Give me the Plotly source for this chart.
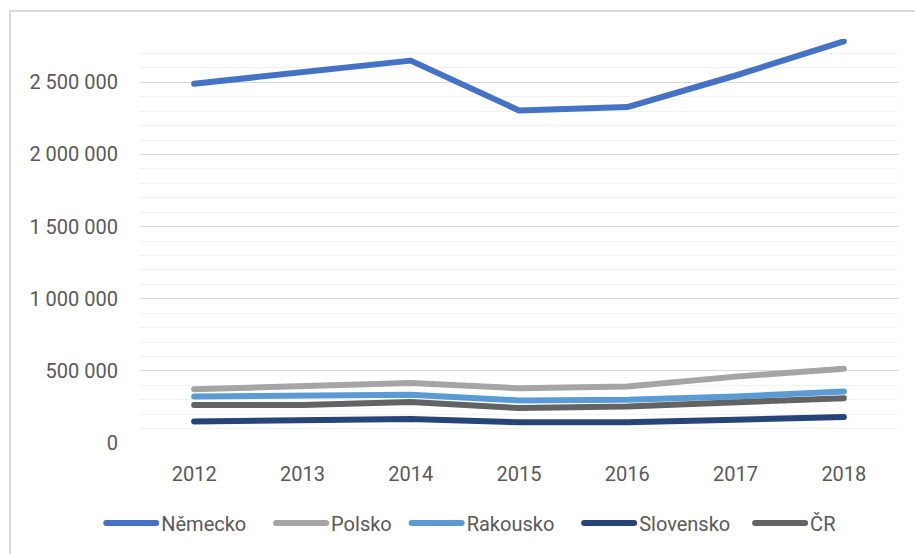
import plotly.graph_objects as go

years = ["2012", "2013", "2014", "2015", "2016", "2017", "2018"]
nemecko = [2490000, 2570000, 2650000, 2305000, 2328000, 2547000, 2784000]
polsko = [373000, 396000, 415000, 380000, 391000, 460000, 514000]
rakousko = [322000, 330000, 334000, 295000, 299000, 322000, 357000]
slovensko = [149000, 159000, 166000, 143000, 143000, 161000, 180000]
cr = [263000, 263000, 284000, 242000, 253000, 277000, 311000]

names = ["Německo", "Polsko", "Rakousko", "Slovensko", "ČR"]
colors = ["#4472C4", "#A5A5A5", "#5B9BD5", "#264478", "#636363"]
values = [nemecko, polsko, rakousko, slovensko, cr]
pads = [4, 2, 4, 3, 0]  # trailing spacing in legend labels

FONT = "Roboto, 'Open Sans', sans-serif"

fig = go.Figure()
for name, vals, col, p in zip(names, values, colors, pads):
    fig.add_trace(go.Scatter(x=years, y=vals, name=name + "\u00a0" * p, mode="lines",
                             line=dict(color=col, width=6)))

fig.update_layout(
    width=915, height=554,
    margin=dict(l=140, r=17, t=39, b=111),
    paper_bgcolor="white", plot_bgcolor="white",
    separators=", ",
    font=dict(family=FONT, size=20, color="#595959"),
    showlegend=True,
    legend=dict(orientation="h", x=0.437, xanchor="center", y=-0.198, yanchor="middle",
                font=dict(family=FONT, size=20, color="#595959"),
                itemwidth=50, tracegroupgap=0, traceorder="normal"),
    xaxis=dict(type="category", range=[-0.5, 6.5], showgrid=False, zeroline=False,
               showline=False, ticks="outside", ticklen=13, tickcolor="rgba(0,0,0,0)",
               tickfont=dict(family=FONT, size=20, color="#595959")),
    yaxis=dict(range=[0, 2800000], dtick=500000, tick0=0, tickformat=",d",
               showgrid=True, gridcolor="#D9D9D9", gridwidth=1.3,
               minor=dict(dtick=100000, showgrid=True, gridcolor="#F2F2F2", gridwidth=1.3),
               zeroline=False, showline=False, ticks="outside", ticklen=17,
               tickcolor="rgba(0,0,0,0)",
               tickfont=dict(family=FONT, size=20, color="#595959")),
    shapes=[dict(type="rect", xref="paper", yref="paper", x0=-0.1715, x1=1.2,
                 y0=-0.5, y1=1.0693, line=dict(color="#D9D9D9", width=2),
                 fillcolor="rgba(0,0,0,0)", layer="below")],
)

fig.write_html("out.html", config={"displayModeBar": False})

css = ("<style>html,body{margin:0;padding:0;overflow:hidden;}"
       "path.js-line{stroke-linecap:round;stroke-linejoin:round;}"
       ".legendlines path{stroke-linecap:round;}</style>")
with open("out.html", "r", encoding="utf-8") as f:
    html = f.read()
html = html.replace("<head>", "<head>" + css, 1)
with open("out.html", "w", encoding="utf-8") as f:
    f.write(html)
